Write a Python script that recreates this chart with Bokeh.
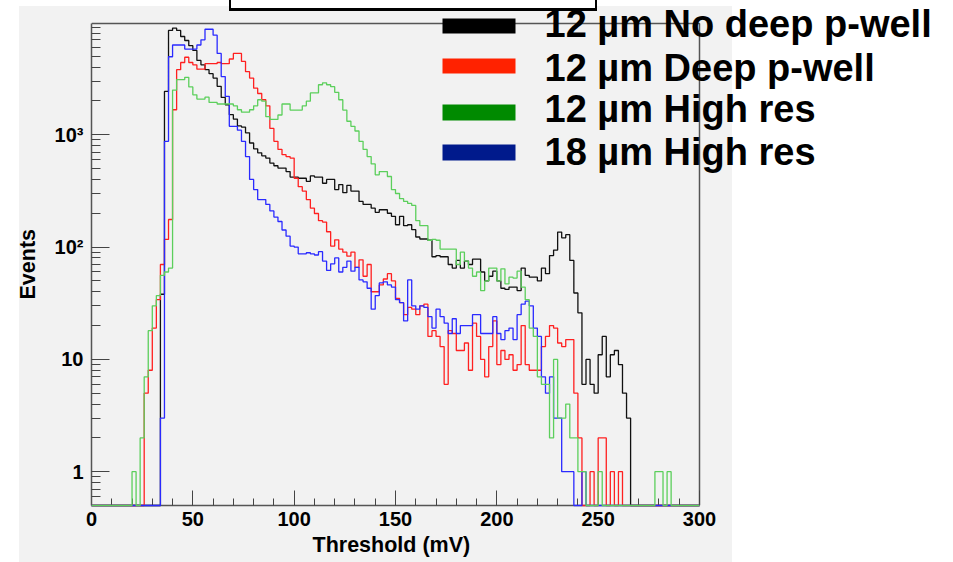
import math
from bokeh.plotting import figure
from bokeh.models import FixedTicker, Label, Range1d, BoxAnnotation, Title
from bokeh.embed import file_html
from bokeh.resources import INLINE

# ---------------- data (counts per 2 mV bin, 0..300 mV) ----------------
bin_edges = list(range(0, 302, 2))

black_counts = [0]*17 + [
    38, 2430, 8490, 8910, 8490, 7500, 6910, 6210, 5640, 4590,      # 17-26
    4200, 3800, 3500, 3200, 2700, 2150, 1850, 1510, 1380, 1200,    # 27-36
    1170, 1040, 845, 750, 690, 650, 620, 560, 530, 505,            # 37-46
    505, 470, 420, 420, 410, 410, 385, 430, 420, 420,              # 47-56
    370, 400, 400, 325, 360, 305, 355, 315, 315, 255,              # 57-66
    240, 240, 222, 204, 215, 215, 200, 188, 158, 188,              # 67-76
    155, 158, 143, 123, 118, 118, 115, 82, 84, 82,                 # 77-86
    82, 70, 65, 76, 65, 75, 70, 78, 78, 60,                        # 87-96
    50, 55, 61, 50, 43, 42, 44, 44, 41, 65,                        # 97-106
    56, 54, 54, 50, 65, 58, 84, 94, 136, 121,                      # 107-116
    129, 76, 39, 26, 6, 10, 6, 5, 11, 16,                          # 117-126
    7, 11, 12, 9, 5, 3] + [0]*17                                   # 127-149

red_counts = [0]*13 + [
    5, 8, 19, 34, 70, 117, 176,                                    # 13-19
    1670, 3800, 4400, 4900, 4400, 4200, 3840, 3840, 4300, 4300,    # 20-29
    4300, 4400, 4300, 4300, 4730, 5300, 5300, 4500, 3650, 3200,    # 30-39
    2600, 2330, 2050, 1810, 1140, 875, 740, 665, 640, 620,         # 40-49
    410, 345, 315, 265, 222, 199, 172, 167, 137, 102,              # 50-59
    116, 96, 90, 83, 90, 66, 77, 55, 70, 40,                       # 60-69
    40, 46, 52, 58, 50, 35, 32, 25, 29, 28,                        # 70-79
    25, 30, 31, 16, 18, 16, 13, 6, 18, 17,                         # 80-89
    12, 12, 14, 8, 21, 16, 10, 7, 13, 22,                          # 90-99
    9, 12, 10, 11, 8, 9, 20, 9, 8, 8,                              # 100-109
    8, 13, 16, 20, 19, 14, 13, 15, 15, 5,                          # 110-119
    2, 0, 0, 1, 0, 2, 2, 0, 1, 0,                                  # 120-129
    1] + [0]*19                                                    # 130-149

green_counts = [0]*10 + [
    1, 0, 2, 7, 18, 30, 37, 56, 60, 65,                            # 10-19
    2500, 3100, 3100, 3250, 2670, 2270, 2080, 2080, 2160, 1940,    # 20-29
    1940, 1880, 1880, 1880, 1880, 1810, 1670, 1590, 1590, 1670,    # 30-39
    1810, 2050, 1990, 1450, 1370, 1370, 1500, 1880, 1880, 1660,    # 40-49
    1660, 1660, 1810, 1990, 2360, 2360, 2790, 2900, 2790, 2680,    # 50-59
    2390, 2050, 1660, 1320, 1190, 1080, 875, 740, 640, 550,        # 60-69
    440, 470, 470, 425, 325, 300, 270, 255, 245, 235,              # 70-79
    172, 155, 155, 115, 117, 115, 96, 96, 96, 96,                  # 80-89
    70, 90, 75, 65, 55, 60, 41, 50, 65, 65,                        # 90-99
    50, 64, 47, 54, 53, 61, 44, 34, 19, 16,                        # 100-109
    7, 6, 6, 2, 10, 3, 3, 4, 2, 2,                                 # 110-119
    1, 1, 0, 0, 0, 1, 0, 0, 0, 0,                                  # 120-129
    0, 0, 0, 0, 0, 0, 0, 0, 0, 1,                                  # 130-139
    1, 0, 1, 0, 0, 0, 0, 0, 0, 0]                                  # 140-149

blue_counts = [0]*17 + [
    3, 875, 4950, 6300, 6300, 6300, 5800, 5800, 5800, 6300,        # 17-26
    7000, 8700, 8700, 7700, 5300, 3300, 2200, 1190, 1190, 1100,    # 27-36
    875, 640, 400, 325, 265, 265, 240, 210, 185, 169,              # 37-46
    142, 125, 102, 100, 87, 87, 89, 87, 85, 91,                    # 47-56
    75, 62, 71, 80, 60, 66, 75, 61, 66, 51,                        # 57-66
    49, 43, 28, 37, 48, 49, 46, 44, 34, 32,                        # 67-76
    22, 51, 30, 28, 30, 29, 24, 19, 28, 24,                        # 77-86
    21, 17, 23, 17, 20, 20, 20, 25, 25, 17,                        # 87-96
    17, 17, 24, 17, 15, 18, 19, 15, 25, 31,                        # 97-106
    33, 30, 19, 16, 7, 5, 7, 3, 3, 1,                              # 107-116
    1, 1, 0, 0, 1] + [0]*28                                        # 117-149

series_names = ["12 µm No deep p-well", "12 µm Deep p-well", "12 µm High res", "18 µm High res"]
line_colors = ["#111111", "#ff2020", "#5ccf5c", "#2a2aff"]
legend_colors = ["#000000", "#ff2200", "#008a00", "#001a8c"]
x_major = [0, 50, 100, 150, 200, 250, 300]
x_minor = [v for v in range(0, 301, 10) if v % 50]
y_major = [1, 10, 100, 1000]
y_labels = ["1", "10", "10²", "10³"]
x_title = "Threshold (mV)"
y_title = "Events"
X_MIN, X_MAX = 0, 300
Y_MIN, Y_MAX = 0.5, 9800
y_minor = [m * 10.0 ** e for e in range(-1, 4) for m in range(2, 10)
           if Y_MIN < m * 10.0 ** e < Y_MAX and not (e == -1 and m < 6)]

FONT = "Liberation Sans"

# ---------------- layout (page pixels) ----------------
W, H = 953, 562
FRAME_L, FRAME_R, FRAME_T, FRAME_B = 91, 699, 23, 506   # ROOT frame box
px_per_x = (FRAME_R - FRAME_L) / (X_MAX - X_MIN)
px_per_dec = (FRAME_B - FRAME_T) / math.log10(Y_MAX / Y_MIN)
x_end = X_MIN + (W - FRAME_L) / px_per_x
y_end = 10 ** (math.log10(Y_MAX) + FRAME_T / px_per_dec)


def sx(X):  # page x -> screen units relative to the Bokeh frame
    return X - FRAME_L


def sy(Y):  # page y -> screen units relative to the Bokeh frame (y up)
    return FRAME_B - Y


p = figure(width=W, height=H, x_range=Range1d(X_MIN, x_end), y_range=Range1d(Y_MIN, y_end),
           y_axis_type="log", output_backend="svg", toolbar_location=None,
           min_border_left=FRAME_L, min_border_right=0, min_border_top=0, min_border_bottom=H - FRAME_B)
p.background_fill_color = None
p.border_fill_color = None
p.outline_line_color = None
p.xgrid.visible = False
p.ygrid.visible = False
p.styles = {
    "background": (
        "linear-gradient(#000,#000) 229px 0px / 2px 11px no-repeat, "
        "linear-gradient(#000,#000) 595px 0px / 2px 11px no-repeat, "
        "linear-gradient(#000,#000) 229px 8px / 368px 3px no-repeat, "
        "linear-gradient(#fff,#fff) 229px 0px / 368px 9px no-repeat, "
        "linear-gradient(to right, #fff 19px, #f2f2f2 19px, #f2f2f2 732px, #fff 732px) 0px 6px / 100% 100% no-repeat, "
        "#ffffff"
    )
}

for ax in (p.xaxis[0], p.yaxis[0]):
    ax.axis_line_color = "#555555"
    ax.axis_line_width = 1.5
    ax.major_tick_out = 0
    ax.minor_tick_out = 0
    ax.major_tick_line_color = "#444444"
    ax.minor_tick_line_color = "#444444"
    ax.major_label_text_font = FONT
    ax.major_label_text_font_style = "bold"
    ax.major_label_text_font_size = "20px"
    ax.major_label_text_color = "black"

p.xaxis.bounds = (X_MIN, X_MAX)
p.xaxis.ticker = FixedTicker(ticks=x_major, minor_ticks=x_minor)
p.xaxis.major_tick_in = 15
p.xaxis.minor_tick_in = 7
p.xaxis.major_label_standoff = 6

p.yaxis.bounds = (Y_MIN, Y_MAX)
p.yaxis.ticker = FixedTicker(ticks=y_major, minor_ticks=y_minor)
p.yaxis.major_label_overrides = dict(zip(y_major, y_labels))
p.yaxis.major_tick_in = 18
p.yaxis.minor_tick_in = 9
p.yaxis.major_label_standoff = 8

# axis titles, positioned along the ROOT frame (not the whole Bokeh frame)
p.add_layout(Title(text=x_title, align="left", offset=312 - FRAME_L, vertical_align="top", standoff=8,
                   text_font=FONT, text_font_style="bold", text_font_size="21.5px", text_color="black"),
             "below")
p.add_layout(Title(text=y_title, align="left", offset=FRAME_B - 300, vertical_align="bottom", standoff=24,
                   text_font=FONT, text_font_style="bold", text_font_size="21.5px", text_color="black"),
             "left")

# top and right sides of the ROOT frame
p.line([X_MIN, X_MAX, X_MAX], [Y_MAX, Y_MAX, Y_MIN], line_color="#555555", line_width=1.5)


def step_points(counts):
    ys = [c if c > 0 else Y_MIN for c in counts]
    return bin_edges, ys + [ys[-1]]


all_counts = [black_counts, red_counts, green_counts, blue_counts]
for idx in [0, 1, 3, 2]:
    xs, ys = step_points(all_counts[idx])
    p.step(xs, ys, mode="after", line_color=line_colors[idx], line_width=1.3, level="overlay")

# legend (boxes + labels)
box_rows = [(19, 34), (59, 74), (105, 121), (145, 161)]
text_centers = [24, 68, 109, 152]
for name, col, (yt, yb), yc in zip(series_names, legend_colors, box_rows, text_centers):
    p.add_layout(BoxAnnotation(left=sx(442), right=sx(515), top=sy(yt), bottom=sy(yb),
                               left_units="screen", right_units="screen",
                               top_units="screen", bottom_units="screen",
                               fill_color=col, fill_alpha=1, line_alpha=0))
    p.add_layout(Label(x=sx(544), y=sy(yc), x_units="screen", y_units="screen", text=name,
                       text_font=FONT, text_font_style="bold", text_font_size="38px",
                       text_baseline="middle", text_color="black"))

open("out.html", "w").write(file_html(p, INLINE))
